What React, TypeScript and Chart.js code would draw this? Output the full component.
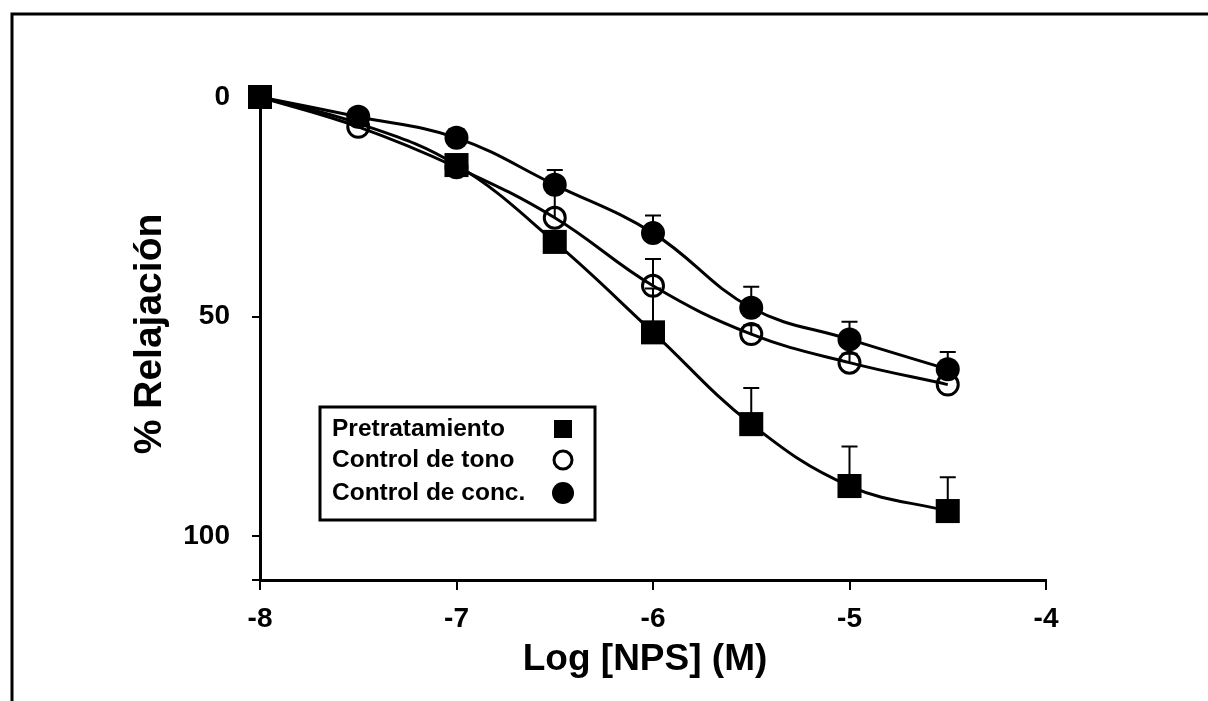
import React, { useEffect, useRef } from "react";
import { Chart, registerables } from "chart.js";

Chart.register(...registerables);

const logDose = [-8, -7.5, -7, -6.5, -6, -5.5, -5, -4.5];
const pretratamiento = [0, 6, 15.5, 33, 53.6, 74.5, 88.6, 94.3];
const pretratamientoErr = [0, 0, 0, 0, 10, 8.2, 9, 7.7];
const controlTono = [0, 6.8, 16, 27.5, 43, 54, 60.5, 65.5];
const controlTonoErr = [0, 0, 0, 6, 6.1, 2, 2, 0];
const controlConc = [0, 4.5, 9.3, 20, 31, 48, 55.2, 62];
const controlConcErr = [0, 0, 2, 3.4, 4, 4.8, 4, 3.9];

const legendLabels = ["Pretratamiento", "Control de tono", "Control de conc."];
const yTickValues = [0, 50, 100, 110];
const xTickValues = [-8, -7, -6, -5, -4];
const xTitle = "Log [NPS] (M)";
const yTitle = "% Relajación";

const FONT = "'Liberation Sans', Arial, Helvetica, sans-serif";

const errors = [pretratamientoErr, controlTonoErr, controlConcErr];

const errorBarPlugin = {
  id: "errorBars",
  afterDatasetsDraw(chart: any) {
    const ctx = chart.ctx;
    const yScale = chart.scales.y;
    ctx.save();
    ctx.strokeStyle = "#000";
    ctx.lineWidth = 2;
    chart.data.datasets.forEach((ds: any, di: number) => {
      const meta = chart.getDatasetMeta(di);
      const errs = errors[di];
      meta.data.forEach((pt: any, i: number) => {
        const e = errs[i];
        if (!e) return;
        const v = ds.data[i].y;
        const yTop = yScale.getPixelForValue(v - e);
        ctx.beginPath();
        ctx.moveTo(pt.x, pt.y);
        ctx.lineTo(pt.x, yTop);
        ctx.moveTo(pt.x - 8, yTop);
        ctx.lineTo(pt.x + 8, yTop);
        ctx.stroke();
      });
    });
    ctx.restore();
  },
};

const decorPlugin = {
  id: "decor",
  beforeDraw(chart: any) {
    const ctx = chart.ctx;
    ctx.save();
    ctx.fillStyle = "#fff";
    ctx.fillRect(0, 0, chart.width, chart.height);
    ctx.strokeStyle = "#000";
    ctx.lineWidth = 3;
    ctx.beginPath();
    ctx.moveTo(12, chart.height);
    ctx.lineTo(12, 14);
    ctx.lineTo(chart.width, 14);
    ctx.stroke();
    ctx.restore();
  },
  afterDraw(chart: any) {
    const ctx = chart.ctx;
    ctx.save();
    ctx.fillStyle = "#000";
    ctx.font = `bold 39px ${FONT}`;
    ctx.textAlign = "center";
    ctx.textBaseline = "middle";
    ctx.save();
    ctx.translate(150, 334);
    ctx.rotate(-Math.PI / 2);
    ctx.fillText(yTitle, 0, 0);
    ctx.restore();
    ctx.font = `bold 37px ${FONT}`;
    ctx.fillText(xTitle, 645, 660);

    ctx.strokeStyle = "#000";
    ctx.lineWidth = 3;
    ctx.fillStyle = "#fff";
    ctx.fillRect(320, 407, 275, 113);
    ctx.strokeRect(320, 407, 275, 113);
    ctx.fillStyle = "#000";
    ctx.font = `bold 24.5px ${FONT}`;
    ctx.textAlign = "left";
    ctx.textBaseline = "middle";
    const rows = [429, 460, 493];
    legendLabels.forEach((lab, i) => ctx.fillText(lab, 332, rows[i]));
    const mx = 563;
    ctx.fillRect(mx - 9, rows[0] - 9, 18, 18);
    ctx.beginPath();
    ctx.lineWidth = 3;
    ctx.arc(mx, rows[1], 9, 0, Math.PI * 2);
    ctx.stroke();
    ctx.beginPath();
    ctx.arc(mx, rows[2], 11, 0, Math.PI * 2);
    ctx.fill();
    ctx.restore();
  },
};

const toPts = (vals: number[]) => logDose.map((x, i) => ({ x, y: vals[i] }));

export default function App() {
  const ref = useRef<HTMLCanvasElement>(null);
  useEffect(() => {
    if (!ref.current) return;
    const common = {
      borderColor: "#000",
      borderWidth: 3,
      tension: 0.4,
      fill: false,
      clip: false,
      pointBorderColor: "#000",
    };
    const chart = new Chart(ref.current, {
      type: "line",
      data: {
        datasets: [
          {
            ...common,
            label: legendLabels[0],
            data: toPts(pretratamiento),
            pointStyle: "rect",
            pointRadius: logDose.map((_, i) => (i === 1 ? 0 : 17)),
            pointBackgroundColor: "#000",
            pointBorderWidth: 0,
          },
          {
            ...common,
            label: legendLabels[1],
            data: toPts(controlTono),
            pointStyle: "circle",
            pointRadius: 10.5,
            pointBackgroundColor: "rgba(0,0,0,0)",
            pointBorderWidth: 3,
          },
          {
            ...common,
            label: legendLabels[2],
            data: toPts(controlConc),
            pointStyle: "circle",
            pointRadius: 12,
            pointBackgroundColor: "#000",
            pointBorderWidth: 0,
          },
        ],
      },
      options: {
        animation: false,
        responsive: true,
        maintainAspectRatio: false,
        layout: { padding: { left: 0, right: 162, top: 97, bottom: 0 } },
        plugins: { legend: { display: false }, tooltip: { enabled: false } },
        scales: {
          x: {
            type: "linear",
            min: -8,
            max: -4,
            afterFit: (s: any) => {
              s.height = 121;
            },
            afterBuildTicks: (s: any) => {
              s.ticks = xTickValues.map((v) => ({ value: v }));
            },
            ticks: {
              color: "#000",
              font: { family: FONT, size: 28, weight: "bold" },
              padding: 12,
              maxRotation: 0,
              callback: (v: any) => String(v),
            },
            grid: {
              display: true,
              drawOnChartArea: false,
              drawTicks: true,
              tickLength: 10,
              color: "#000",
              lineWidth: 2,
            },
            border: { display: true, color: "#000", width: 3 },
          },
          y: {
            type: "linear",
            reverse: true,
            min: 0,
            max: 110,
            afterFit: (s: any) => {
              s.width = 260;
            },
            afterBuildTicks: (s: any) => {
              s.ticks = yTickValues.map((v) => ({ value: v }));
            },
            ticks: {
              color: "#000",
              font: { family: FONT, size: 28, weight: "bold" },
              padding: 22,
              callback: (v: any) => (v === 110 ? "" : String(v)),
            },
            grid: {
              display: true,
              drawOnChartArea: false,
              drawTicks: true,
              tickLength: 8,
              color: "#000",
              lineWidth: 2,
            },
            border: { display: true, color: "#000", width: 3 },
          },
        },
      },
      plugins: [decorPlugin, errorBarPlugin],
    } as any);
    return () => chart.destroy();
  }, []);
  return (
    <div style={{ position: "absolute", left: 0, top: 0, width: 1208, height: 701 }}>
      <canvas ref={ref} />
    </div>
  );
}
